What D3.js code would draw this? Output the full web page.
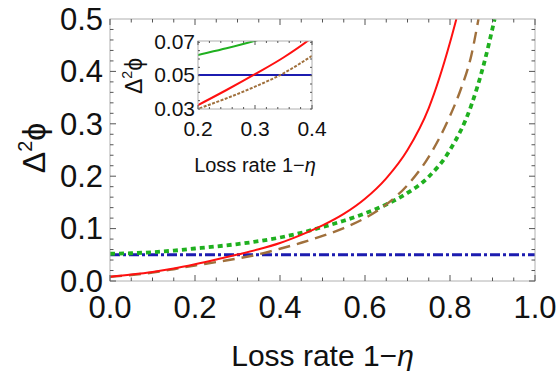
<!DOCTYPE html>
<html lang="en">
<head>
<meta charset="UTF-8">
<title>Phase sensitivity vs loss</title>
<script src="https://d3js.org/d3.v7.min.js"></script>
<style>
  body { margin: 0; background: #fff; }
  svg { display: block; font-family: "Liberation Sans", Arial, sans-serif; }
  .frame { fill: none; stroke: #b0b0b0; stroke-width: 1; }
  .tick { stroke: #555; stroke-width: 1; }
</style>
</head>
<body>
<svg id="chart" width="560" height="371"></svg>
<script>
// loss rate samples (1 - eta) and the read-off curves
const lossRed   = [0, 0.05, 0.1, 0.15, 0.2, 0.25, 0.3, 0.35, 0.4, 0.45, 0.5, 0.55, 0.6, 0.65, 0.7, 0.75, 0.8, 0.815];
const redVals   = [0.008, 0.0122, 0.0172, 0.0238, 0.032, 0.041, 0.0505, 0.0605, 0.0725, 0.088, 0.106, 0.128, 0.157, 0.196, 0.250, 0.330, 0.455, 0.5];
const lossBrown = [0, 0.05, 0.1, 0.15, 0.2, 0.25, 0.3, 0.35, 0.4, 0.45, 0.5, 0.55, 0.6, 0.65, 0.7, 0.75, 0.8, 0.825, 0.85, 0.867];
const brownVals = [0.008, 0.0115, 0.016, 0.0225, 0.0296, 0.036, 0.043, 0.051, 0.0615, 0.073, 0.086, 0.101, 0.120, 0.146, 0.183, 0.237, 0.315, 0.365, 0.430, 0.5];
const lossGreen = [0, 0.05, 0.1, 0.15, 0.2, 0.25, 0.3, 0.35, 0.4, 0.45, 0.5, 0.55, 0.6, 0.65, 0.7, 0.75, 0.8, 0.85, 0.88, 0.905];
const greenVals = [0.052, 0.053, 0.055, 0.058, 0.062, 0.066, 0.0705, 0.076, 0.083, 0.092, 0.103, 0.115, 0.129, 0.146, 0.168, 0.199, 0.250, 0.335, 0.415, 0.5];
const blueLevel = 0.05;

const xTicksMain = [0, 0.2, 0.4, 0.6, 0.8, 1.0];
const yTicksMain = [0, 0.1, 0.2, 0.3, 0.4, 0.5];
const xTicksInset = [0.2, 0.3, 0.4];
const yTicksInset = [0.03, 0.05, 0.07];

const svg = d3.select("#chart");

const zip = (xs, ys) => xs.map((x, i) => [x, ys[i]]);
const series = [
  { name: "green", pts: zip(lossGreen, greenVals), color: "#1fb01f", w: 3.8, dash: "5,4", insetDash: null },
  { name: "brown", pts: zip(lossBrown, brownVals), color: "#a0703c", w: 2.4, dash: "12,7", insetDash: "3,1.5" },
  { name: "red",   pts: zip(lossRed, redVals),     color: "#ff1010", w: 2, dash: null, insetDash: null }
];

function drawPanel(g, opt) {
  const x = d3.scaleLinear().domain(opt.xd).range([opt.x0, opt.x1]);
  const y = d3.scaleLinear().domain(opt.yd).range([opt.y0, opt.y1]);

  g.append("clipPath").attr("id", opt.id + "clip")
    .append("rect").attr("x", opt.x0).attr("y", opt.y1)
    .attr("width", opt.x1 - opt.x0).attr("height", opt.y0 - opt.y1);

  g.append("rect").attr("x", opt.x0).attr("y", opt.y1)
    .attr("width", opt.x1 - opt.x0).attr("height", opt.y0 - opt.y1)
    .attr("fill", "#fff");

  const plot = g.append("g").attr("clip-path", `url(#${opt.id}clip)`);
  const line = d3.line().x(d => x(d[0])).y(d => y(d[1])).curve(d3.curveMonotoneX);

  // horizontal reference line
  plot.append("line")
    .attr("x1", x(opt.xd[0])).attr("x2", x(opt.xd[1]))
    .attr("y1", y(blueLevel)).attr("y2", y(blueLevel))
    .attr("stroke", "#1c1cb0").attr("stroke-width", opt.inset ? 2.2 : 3)
    .attr("stroke-dasharray", opt.inset ? null : "10,3,3,3");

  series.forEach(s => {
    plot.append("path").datum(s.pts)
      .attr("d", line)
      .attr("fill", "none")
      .attr("stroke", s.color)
      .attr("stroke-width", opt.inset ? 2 : s.w)
      .attr("stroke-dasharray", opt.inset ? s.insetDash : s.dash);
  });

  g.append("rect").attr("class", "frame")
    .attr("x", opt.x0).attr("y", opt.y1)
    .attr("width", opt.x1 - opt.x0).attr("height", opt.y0 - opt.y1);

  // ticks on all four sides, pointing inward
  const ticks = g.append("g");
  const xMinor = d3.range(opt.xd[0], opt.xd[1] + 1e-9, opt.xMinor);
  const yMinor = d3.range(opt.yd[0] + 1e-9, opt.yd[1] + 1e-9, opt.yMinor);
  xMinor.forEach(v => {
    const major = opt.xTicks.some(t => Math.abs(t - v) < 1e-6);
    const len = major ? opt.major : opt.minor;
    ticks.append("line").attr("class", "tick")
      .attr("x1", x(v)).attr("x2", x(v)).attr("y1", opt.y0).attr("y2", opt.y0 - len);
    ticks.append("line").attr("class", "tick")
      .attr("x1", x(v)).attr("x2", x(v)).attr("y1", opt.y1).attr("y2", opt.y1 + len);
  });
  yMinor.forEach(v => {
    const major = opt.yTicks.some(t => Math.abs(t - v) < 1e-6);
    const len = major ? opt.major : opt.minor;
    ticks.append("line").attr("class", "tick")
      .attr("x1", opt.x0).attr("x2", opt.x0 + len).attr("y1", y(v)).attr("y2", y(v));
    ticks.append("line").attr("class", "tick")
      .attr("x1", opt.x1).attr("x2", opt.x1 - len).attr("y1", y(v)).attr("y2", y(v));
  });

  g.selectAll(null).data(opt.xTicks).enter().append("text")
    .attr("x", d => x(d)).attr("y", opt.xLabelY)
    .attr("text-anchor", "middle").attr("font-size", opt.fs).attr("fill", "#111")
    .text(d => d.toFixed(1));
  g.selectAll(null).data(opt.yTicks).enter().append("text")
    .attr("x", opt.yLabelX).attr("y", d => y(d))
    .attr("dy", "0.35em")
    .attr("text-anchor", "end").attr("font-size", opt.fs).attr("fill", "#111")
    .text(d => d.toFixed(opt.inset ? 2 : 1));

  // axis titles
  const xt = g.append("text")
    .attr("x", (opt.x0 + opt.x1) / 2).attr("y", opt.xTitleY)
    .attr("text-anchor", "middle").attr("font-size", opt.tfs).attr("fill", "#111");
  xt.append("tspan").text("Loss rate 1\u2212");
  xt.append("tspan").attr("font-style", "italic").text("\u03b7");

  const yt = g.append("text")
    .attr("transform", `translate(${opt.yTitleX},${opt.yTitleY}) rotate(-90)`)
    .attr("text-anchor", "middle").attr("font-size", opt.ytfs).attr("fill", "#111");
  yt.append("tspan").text("\u0394");
  yt.append("tspan").attr("font-size", opt.ytfs * 0.62).attr("dy", -opt.ytfs * 0.42).text("2");
  yt.append("tspan").attr("dy", opt.ytfs * 0.42).text("\u03d5");
}

// main plot
drawPanel(svg.append("g"), {
  id: "main", inset: false,
  xd: [0, 1], yd: [0, 0.5],
  x0: 110, x1: 535, y0: 281, y1: 19,
  xTicks: xTicksMain, yTicks: yTicksMain,
  xMinor: 0.05, yMinor: 0.02, major: 6, minor: 3.5,
  fs: 31, xLabelY: 318, yLabelX: 103,
  tfs: 30, ytfs: 32, xTitleY: 366, yTitleX: 45, yTitleY: 148
});

// inset
drawPanel(svg.append("g"), {
  id: "inset", inset: true,
  xd: [0.2, 0.4], yd: [0.0296, 0.0704],
  x0: 198, x1: 312, y0: 109, y1: 41,
  xTicks: xTicksInset, yTicks: yTicksInset,
  xMinor: 0.02, yMinor: 0.005, major: 4, minor: 2,
  fs: 21, xLabelY: 136, yLabelX: 195,
  tfs: 20, ytfs: 23, xTitleY: 172, yTitleX: 142, yTitleY: 76
});
</script>
</body>
</html>
